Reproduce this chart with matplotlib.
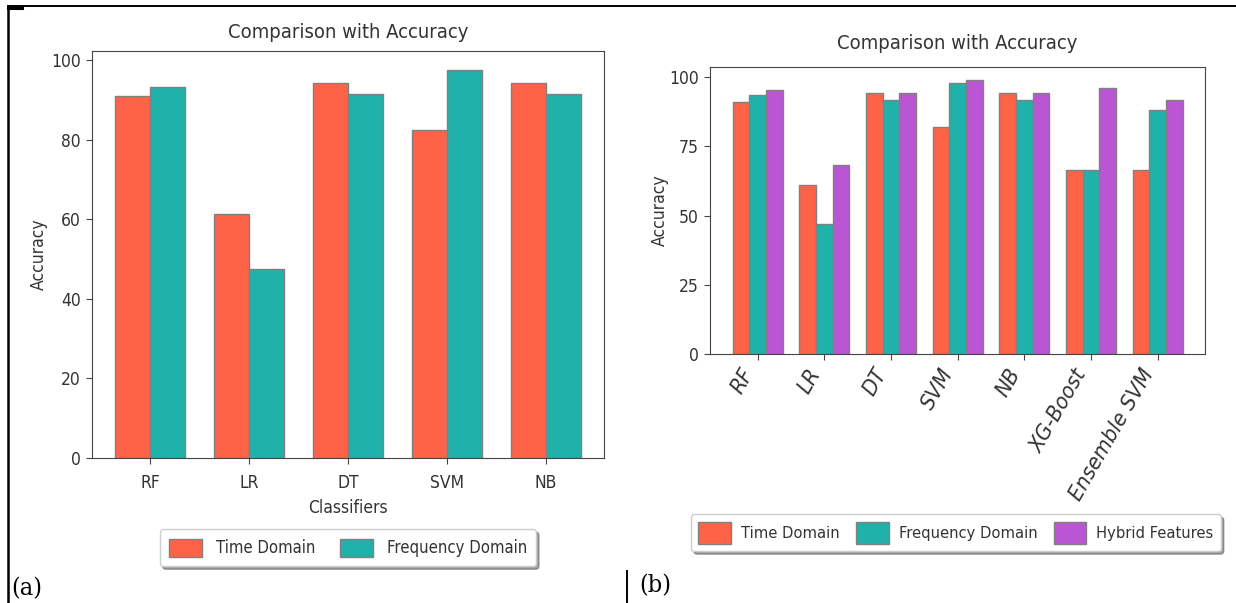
import matplotlib
matplotlib.use("Agg")
import matplotlib.pyplot as plt
from matplotlib.lines import Line2D
from matplotlib import font_manager as fm
import numpy as np

# ---- data ----
classifiers_a = ["RF", "LR", "DT", "SVM", "NB"]
time_a = [91.0, 61.3, 94.3, 82.6, 94.3]
freq_a = [93.3, 47.6, 91.6, 97.5, 91.6]

classifiers_b = ["RF", "LR", "DT", "SVM", "NB", "XG-Boost", "Ensemble SVM"]
time_b = [91.0, 61.2, 94.2, 82.0, 94.2, 66.4, 66.4]
freq_b = [93.4, 47.1, 91.8, 98.0, 91.8, 66.4, 88.2]
hybrid_b = [95.5, 68.2, 94.3, 98.8, 94.3, 96.2, 91.8]

series_names = ["Time Domain", "Frequency Domain", "Hybrid Features"]
colors = ["tomato", "lightseagreen", "mediumorchid"]

# pick a narrow sans face if one is available
fam = "DejaVu Sans"
stretch = "normal"
p = fm.findfont(fm.FontProperties(family="DejaVu Sans", stretch="condensed"))
if "Condensed" in p:
    stretch = "condensed"
else:
    try:
        p2 = fm.findfont(fm.FontProperties(family="Liberation Sans Narrow"),
                         fallback_to_default=False)
        if "Narrow" in p2:
            fam = "Liberation Sans Narrow"
    except Exception:
        pass

plt.rcParams["font.family"] = [fam, "DejaVu Sans"]
plt.rcParams["font.stretch"] = stretch
plt.rcParams["axes.edgecolor"] = "#444444"
plt.rcParams["xtick.color"] = "#444444"
plt.rcParams["ytick.color"] = "#444444"
plt.rcParams["text.color"] = "#333333"
plt.rcParams["axes.labelcolor"] = "#333333"
plt.rcParams["xtick.labelcolor"] = "#333333"
plt.rcParams["ytick.labelcolor"] = "#333333"

W, H = 1236, 603
fig = plt.figure(figsize=(W / 100, H / 100), dpi=100)
fig.patch.set_facecolor("white")


def fx(px):
    return px / W


def fy(py):
    return 1 - py / H


# ---- panel (a) ----
ax1 = fig.add_axes([fx(92), fy(458), fx(604 - 92), (458 - 51) / H])
xa = np.arange(len(classifiers_a))
wa = 0.35
ax1.bar(xa - wa / 2, time_a, wa, color=colors[0], edgecolor="grey",
        linewidth=1, label=series_names[0])
ax1.bar(xa + wa / 2, freq_a, wa, color=colors[1], edgecolor="grey",
        linewidth=1, label=series_names[1])
ax1.set_xticks(xa)
ax1.set_xticklabels(classifiers_a)
ax1.set_yticks([0, 20, 40, 60, 80, 100])
ax1.tick_params(labelsize=12.5, length=4.5)
ax1.tick_params(axis="x", pad=7)
ax1.set_title("Comparison with Accuracy", fontsize=14.5, pad=9)
ax1.set_xlabel("Classifiers", fontsize=12.5, labelpad=5)
ax1.set_ylabel("Accuracy", fontsize=12.5, labelpad=2)
ax1.legend(loc="upper center", bbox_to_anchor=(0.5, -0.155), ncol=2,
           shadow=True, fontsize=12, columnspacing=1.5,
           handlelength=2.0, handleheight=1.3, borderpad=0.55)

# ---- panel (b) ----
ax2 = fig.add_axes([fx(710), fy(354), fx(1205 - 710), (354 - 66.7) / H])
xb = np.arange(len(classifiers_b))
wb = 0.25
for k, vals in enumerate([time_b, freq_b, hybrid_b]):
    ax2.bar(xb + (k - 1) * wb, vals, wb, color=colors[k], edgecolor="grey",
            linewidth=1, label=series_names[k])
ax2.set_xticks(xb)
ax2.set_xticklabels(classifiers_b, rotation=60, ha="right", style="italic",
                    fontsize=16)
ax2.set_yticks([0, 25, 50, 75, 100])
ax2.tick_params(axis="y", labelsize=12.5)
ax2.tick_params(length=4.5)
ax2.set_title("Comparison with Accuracy", fontsize=14.5, pad=13)
ax2.set_ylabel("Accuracy", fontsize=12.5, labelpad=0)
ax2.legend(loc="upper center", bbox_to_anchor=(0.497, -0.53), ncol=3,
           shadow=True, fontsize=11.8, columnspacing=1.0,
           handlelength=2.0, handleheight=1.7, handletextpad=0.6,
           borderpad=0.45)

# ---- surrounding table rules and captions ----
fig.add_artist(Line2D([fx(8), 1.0], [fy(6), fy(6)], color="black", lw=1.4))
fig.add_artist(Line2D([fx(8), fx(8)], [fy(6), 0.0], color="black", lw=1.8))
fig.add_artist(Line2D([fx(8), fx(22)], [fy(7.5), fy(7.5)], color="black", lw=2.2))
fig.add_artist(Line2D([fx(627), fx(627)], [fy(571), 0.0], color="black", lw=1.4))
fig.text(fx(11), fy(589), "(a)", fontsize=18, family="DejaVu Serif",
         va="center", ha="left", color="black")
fig.text(fx(639), fy(586), "(b)", fontsize=18, family="DejaVu Serif",
         va="center", ha="left", color="black")

fig.savefig("out.png", dpi=100, facecolor="white")
